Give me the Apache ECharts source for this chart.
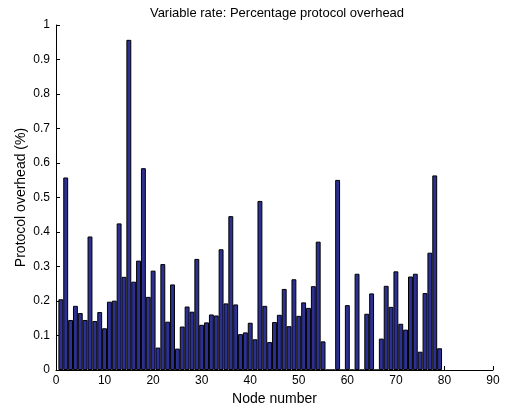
<!DOCTYPE html>
<html>
<head>
<meta charset="utf-8">
<script src="https://cdn.jsdelivr.net/npm/echarts@6/dist/echarts.min.js"></script>
<style>html,body{margin:0;padding:0;background:#fff}#c{width:513px;height:411px}</style>
</head>
<body>
<div id="c"></div>
<script>
const nodes = [];
for (let i = 1; i <= 79; i++) nodes.push(i);
const overhead = [
  0.205, 0.558, 0.145, 0.186, 0.165, 0.145, 0.387, 0.142, 0.168, 0.121,
  0.198, 0.201, 0.425, 0.270, 0.957, 0.256, 0.317, 0.585, 0.212, 0.288,
  0.065, 0.307, 0.140, 0.248, 0.062, 0.126, 0.184, 0.169, 0.322, 0.131,
  0.138, 0.161, 0.158, 0.350, 0.193, 0.446, 0.190, 0.104, 0.109, 0.137,
  0.089, 0.490, 0.186, 0.081, 0.139, 0.160, 0.235, 0.127, 0.263, 0.157,
  0.196, 0.180, 0.243, 0.372, 0.083, 0.000, 0.000, 0.551, 0.000, 0.188,
  0.000, 0.279, 0.000, 0.163, 0.222, 0.000, 0.091, 0.244, 0.183, 0.286,
  0.134, 0.117, 0.271, 0.279, 0.053, 0.223, 0.340, 0.564, 0.063
];
const titleText = 'Variable rate: Percentage protocol overhead';
const xName = 'Node number';
const yName = 'Protocol overhead (%)';

const chart = echarts.init(document.getElementById('c'), null, {renderer: 'canvas'});
const font = 'Liberation Sans, Arial, sans-serif';
chart.setOption({
  animation: false,
  backgroundColor: '#fff',
  title: {
    text: titleText, left: 272, top: 2, textAlign: 'center',
    textStyle: {fontFamily: font, fontSize: 13, fontWeight: 'normal', color: '#000'}
  },
  grid: {left: 56, right: 20, top: 25, bottom: 41, containLabel: false},
  xAxis: {
    type: 'value', min: 0, max: 90, interval: 10,
    name: xName, nameLocation: 'middle', nameGap: 20,
    nameTextStyle: {fontFamily: font, fontSize: 14, color: '#000'},
    axisLine: {show: true, onZero: false, lineStyle: {color: '#000', width: 1}},
    axisTick: {show: true, inside: true, length: 4, lineStyle: {color: '#000'}},
    axisLabel: {fontFamily: font, fontSize: 12, color: '#000', margin: 5},
    splitLine: {show: false}
  },
  yAxis: {
    type: 'value', min: 0, max: 1, interval: 0.1,
    name: yName, nameLocation: 'middle', nameGap: 28, nameRotate: 90,
    nameMoveOverlap: false,
    nameTextStyle: {fontFamily: font, fontSize: 14, color: '#000'},
    axisLine: {show: true, lineStyle: {color: '#000', width: 1}},
    axisTick: {show: true, inside: true, length: 4, lineStyle: {color: '#000'}},
    axisLabel: {fontFamily: font, fontSize: 12, color: '#000', margin: 6},
    splitLine: {show: false}
  },
  series: [{
    type: 'bar',
    data: nodes.map((n, i) => [n, overhead[i]]),
    barWidth: 4.9,
    itemStyle: {color: '#2c3091', borderColor: '#000', borderWidth: 1}
  }]
});
</script>
</body>
</html>
